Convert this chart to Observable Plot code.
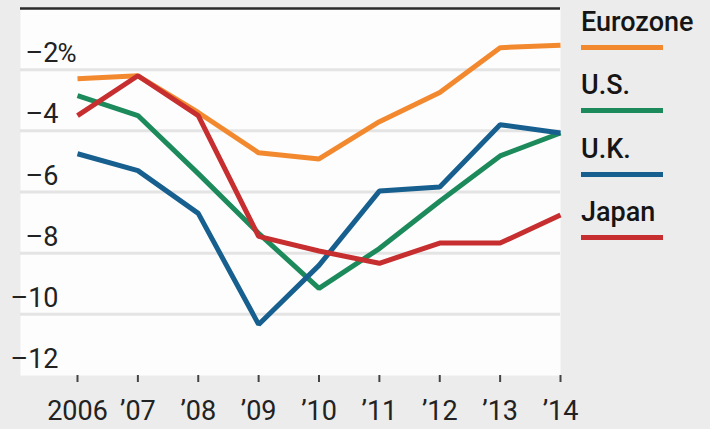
<!DOCTYPE html>
<html>
<head>
<meta charset="utf-8">
<script src="https://cdn.jsdelivr.net/npm/d3@7"></script>
<script src="https://cdn.jsdelivr.net/npm/@observablehq/plot@0.6"></script>
<style>
  html, body { margin: 0; padding: 0; background: #ececec; }
  #wrap { position: relative; width: 710px; height: 429px; overflow: hidden;
          font-family: "Roboto", "Liberation Sans", sans-serif; }
  #legend { position: absolute; left: 581px; top: 0; }
  .item { position: absolute; left: 0; width: 130px; }
  .label { font-size: 27px; font-weight: 500; color: #151515; line-height: 30px; white-space: nowrap; }
  .bar { width: 82px; height: 5px; margin-top: 8px; }
</style>
</head>
<body>
<div id="wrap"><div id="chart"></div><div id="legend"></div></div>
<script>
const years = [2006, 2007, 2008, 2009, 2010, 2011, 2012, 2013, 2014];
const yearLabels = ["2006", "’07", "’08", "’09", "’10", "’11", "’12", "’13", "’14"];
const seriesNames = ["Eurozone", "U.S.", "U.K.", "Japan"];
const seriesColors = ["#f3892f", "#1d8a5b", "#165f8e", "#c62e2f"];
const eurozone = [-2.3, -2.2, -3.4, -4.72, -4.92, -3.7, -2.75, -1.28, -1.2];
const us = [-2.85, -3.5, -5.4, -7.35, -9.15, -7.85, -6.3, -4.82, -4.07];
const uk = [-4.75, -5.3, -6.7, -10.33, -8.4, -5.97, -5.84, -3.8, -4.07];
const japan = [-3.5, -2.2, -3.5, -7.45, -7.93, -8.33, -7.67, -7.67, -6.75];
const yTicks = [-2, -4, -6, -8, -10, -12];
const yTickLabels = ["–2", "–4", "–6", "–8", "–10", "–12"];

const seriesValues = [eurozone, us, uk, japan];
const rows = [];
seriesNames.forEach((name, i) => {
  years.forEach((yr, j) => rows.push({series: name, year: yr, value: seriesValues[i][j]}));
});

const font = '"Roboto", "Liberation Sans", sans-serif';

const chart = Plot.plot({
  width: 710,
  height: 429,
  marginLeft: 20,
  marginRight: 150,
  marginTop: 8,
  marginBottom: 54,
  style: {background: "transparent", fontFamily: font, color: "#222"},
  x: {domain: [2006 - 57 / 60.375, 2014], axis: null, label: null},
  y: {domain: [-12, 0], axis: null, label: null},
  color: {domain: seriesNames, range: seriesColors},
  marks: [
    Plot.frame({fill: "#fdfdfd", stroke: null}),
    Plot.ruleY(yTicks.filter(d => d > -12), {y: d => d, stroke: "#e4e4e4", strokeWidth: 3}),
    Plot.ruleY([0], {y: d => d, stroke: "#2a2a2a", strokeWidth: 2.5}),
    Plot.text(yTicks, {y: d => d, text: (d, i) => yTickLabels[i], frameAnchor: "left", dx: 38, dy: -16,
      textAnchor: "end", fontSize: 27, fill: "#222"}),
    Plot.text([yTicks[0]], {y: d => d, text: () => "%", frameAnchor: "left", dx: 37, dy: -16,
      textAnchor: "start", fontSize: 26, fill: "#222"}),
    Plot.axisX(years, {tickSize: 7, tickPadding: 18, tickFormat: (d, i) => yearLabels[i], fontSize: 27,
      stroke: "#444", strokeWidth: 2, fill: "#222", label: null}),
    Plot.line(rows, {x: "year", y: "value", z: "series", stroke: "series", strokeWidth: 5,
      strokeLinejoin: "miter", strokeLinecap: "butt"})
  ]
});
document.getElementById("chart").appendChild(chart);

const legend = document.getElementById("legend");
seriesNames.forEach((name, i) => {
  const item = document.createElement("div");
  item.className = "item";
  item.style.top = (7 + i * 63.4) + "px";
  const lab = document.createElement("div");
  lab.className = "label";
  lab.textContent = name;
  const bar = document.createElement("div");
  bar.className = "bar";
  bar.style.background = seriesColors[i];
  item.appendChild(lab);
  item.appendChild(bar);
  legend.appendChild(item);
});
</script>
</body>
</html>
